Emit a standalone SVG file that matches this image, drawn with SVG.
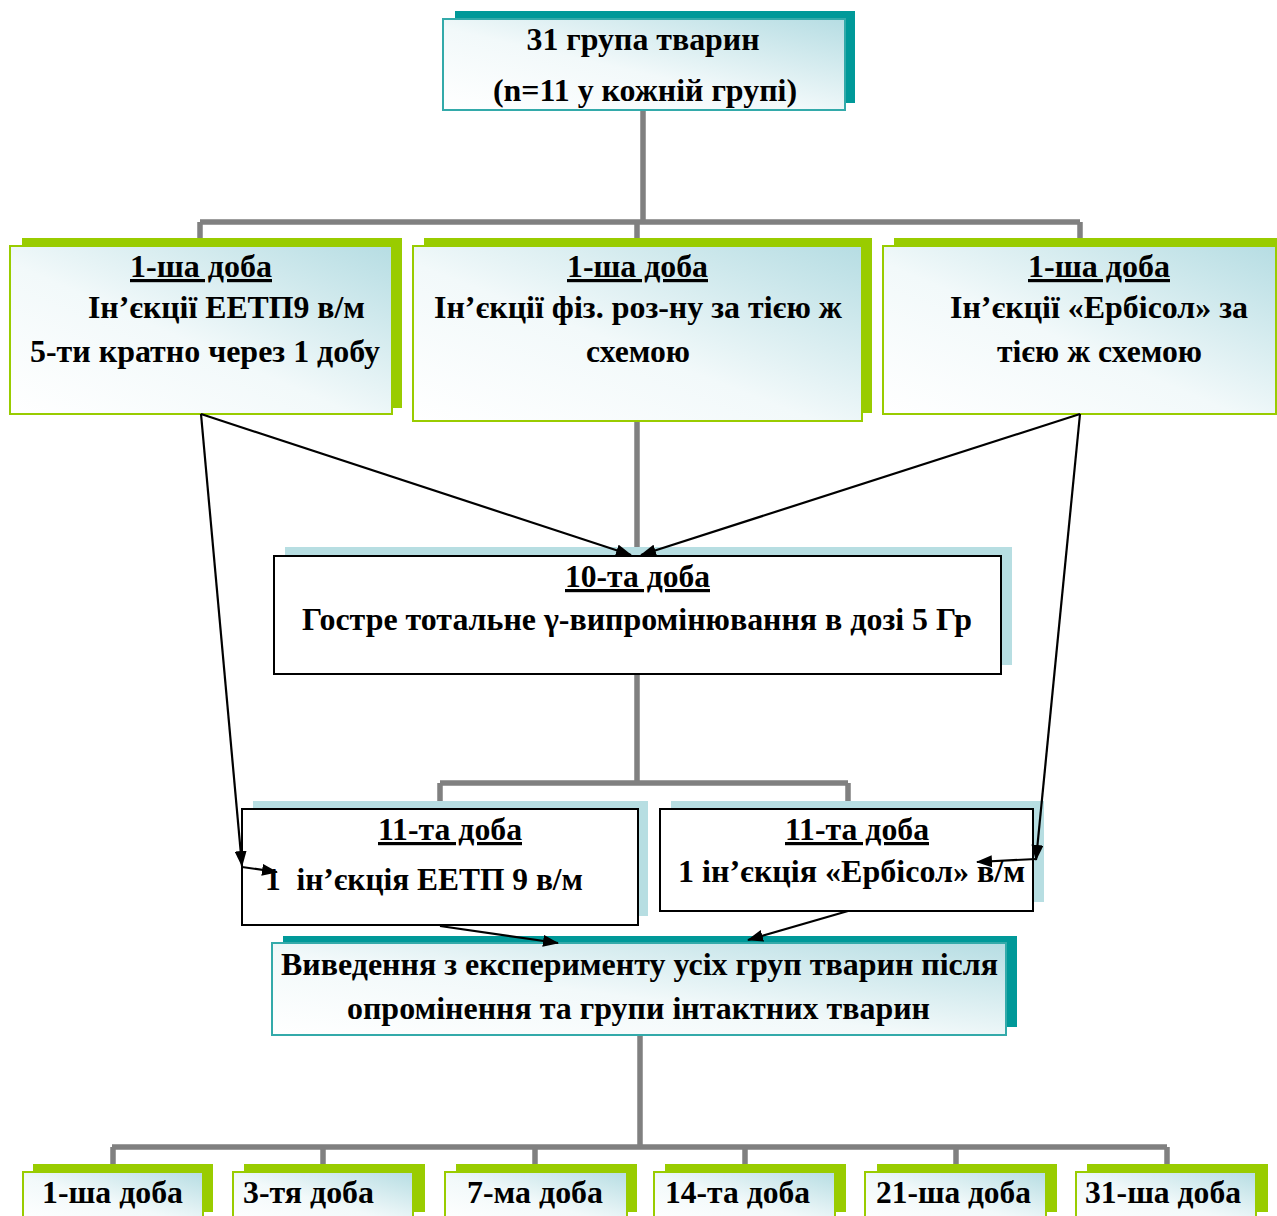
<svg xmlns="http://www.w3.org/2000/svg" width="1277" height="1216" viewBox="0 0 1277 1216">
<defs>
  <linearGradient id="gfill" x1="0" y1="1" x2="1" y2="0">
    <stop offset="0" stop-color="#ffffff"/>
    <stop offset="0.45" stop-color="#f2f9fa"/>
    <stop offset="1" stop-color="#b6dde3"/>
  </linearGradient>
  <marker id="ah" markerUnits="userSpaceOnUse" markerWidth="16" markerHeight="12" refX="15" refY="6" orient="auto">
    <path d="M0,0 L16,6 L0,12 z" fill="#000"/>
  </marker>
  <style>
    text { font-family: "Liberation Serif", "Times New Roman", serif; font-weight: bold; font-size: 32px; fill: #000; }
    .u { text-decoration: underline; text-decoration-thickness: 3px; text-underline-offset: 3px; }
    .teal-sh { fill: #009999; }
    .green-sh { fill: #99cc00; }
    .blue-sh { fill: #b7dee2; }
    .teal-box { fill: url(#gfill); stroke: #33aaaa; stroke-width: 2; }
    .green-box { fill: url(#gfill); stroke: #99cc00; stroke-width: 2; }
    .plain-box { fill: #ffffff; stroke: #000; stroke-width: 2; }
    .gray { stroke: #808080; stroke-width: 5.5; fill: none; }
    .arr { stroke: #000; stroke-width: 2.2; fill: none; marker-end: url(#ah); }
  </style>
</defs>

<g id="connectors-tree">
  <path class="gray" d="M643,110 V222 M200,222 H1080 M200,222 V238 M637,222 V238 M1080,222 V238"/>
  <path class="gray" d="M637,421 V547"/>
  <path class="gray" d="M637,673 V783 M440,783 H848 M440,783 V801 M848,783 V801"/>
  <path class="gray" d="M640,1035 V1147 M112,1147 H1167 M113,1147 V1164 M323,1147 V1164 M535,1147 V1164 M745,1147 V1164 M956,1147 V1164 M1167,1147 V1164"/>
</g>

<g id="node-top">
  <rect class="teal-sh" x="455" y="11" width="400" height="92"/>
  <rect class="teal-box" x="443" y="19" width="402" height="91"/>
  <text x="643" y="50" text-anchor="middle" textLength="233" lengthAdjust="spacingAndGlyphs">31 група тварин</text>
  <text x="645" y="101" text-anchor="middle" textLength="304" lengthAdjust="spacingAndGlyphs">(n=11 у кожній групі)</text>
</g>

<g id="node-eetp">
  <rect class="green-sh" x="22" y="238" width="380" height="170"/>
  <rect class="green-box" x="10" y="246" width="382" height="168"/>
  <text class="u" x="130" y="277" textLength="142" lengthAdjust="spacingAndGlyphs">1-ша доба</text>
  <text x="88" y="318" textLength="277" lengthAdjust="spacingAndGlyphs">Ін’єкції ЕЕТП9 в/м</text>
  <text x="30" y="362" textLength="350" lengthAdjust="spacingAndGlyphs">5-ти кратно через 1 добу</text>
</g>

<g id="node-fiz">
  <rect class="green-sh" x="424" y="238" width="448" height="175"/>
  <rect class="green-box" x="413" y="246" width="449" height="175"/>
  <text class="u" x="567" y="277" textLength="141" lengthAdjust="spacingAndGlyphs">1-ша доба</text>
  <text x="434" y="318" textLength="408" lengthAdjust="spacingAndGlyphs">Ін’єкції фіз. роз-ну за тією ж</text>
  <text x="586" y="362" textLength="104" lengthAdjust="spacingAndGlyphs">схемою</text>
</g>

<g id="node-erbisol">
  <rect class="green-sh" x="894" y="238" width="385" height="170"/>
  <rect class="green-box" x="883" y="246" width="393" height="168"/>
  <text class="u" x="1028" y="277" textLength="142" lengthAdjust="spacingAndGlyphs">1-ша доба</text>
  <text x="950" y="318" textLength="298" lengthAdjust="spacingAndGlyphs">Ін’єкції «Ербісол» за</text>
  <text x="997" y="362" textLength="205" lengthAdjust="spacingAndGlyphs">тією ж схемою</text>
</g>

<g id="node-day10">
  <rect class="blue-sh" x="285" y="547" width="727" height="118"/>
  <rect class="plain-box" x="274" y="556" width="727" height="118"/>
  <text class="u" x="565" y="587" textLength="145" lengthAdjust="spacingAndGlyphs">10-та доба</text>
  <text x="302" y="630" textLength="670" lengthAdjust="spacingAndGlyphs">Гостре тотальне γ-випромінювання в дозі 5 Гр</text>
</g>

<g id="node-day11-eetp">
  <rect class="blue-sh" x="253" y="801" width="395" height="115"/>
  <rect class="plain-box" x="242" y="809" width="396" height="116"/>
  <text class="u" x="378" y="840" textLength="144" lengthAdjust="spacingAndGlyphs">11-та доба</text>
  <text x="265" y="890" textLength="318" lengthAdjust="spacingAndGlyphs" xml:space="preserve">1  ін’єкція ЕЕТП 9 в/м</text>
</g>

<g id="node-day11-erbisol">
  <rect class="blue-sh" x="671" y="801" width="373" height="101"/>
  <rect class="plain-box" x="660" y="809" width="373" height="102"/>
  <text class="u" x="785" y="840" textLength="144" lengthAdjust="spacingAndGlyphs">11-та доба</text>
  <text x="678" y="882" textLength="347" lengthAdjust="spacingAndGlyphs">1 ін’єкція «Ербісол» в/м</text>
</g>

<g id="node-withdrawal">
  <rect class="teal-sh" x="283" y="936" width="734" height="91"/>
  <rect class="teal-box" x="272" y="943" width="734" height="92"/>
  <text x="281" y="975" textLength="717" lengthAdjust="spacingAndGlyphs">Виведення з експерименту усіх груп тварин після</text>
  <text x="347" y="1019" textLength="583" lengthAdjust="spacingAndGlyphs">опромінення та групи інтактних тварин</text>
</g>

<g id="node-d1">
  <rect class="green-sh" x="33" y="1164" width="180" height="48"/>
  <rect class="green-box" x="23" y="1172" width="180" height="50"/>
  <text x="42" y="1203" textLength="141" lengthAdjust="spacingAndGlyphs">1-ша доба</text>
</g>
<g id="node-d3">
  <rect class="green-sh" x="244" y="1164" width="181" height="48"/>
  <rect class="green-box" x="233" y="1172" width="180" height="50"/>
  <text x="243" y="1203" textLength="131" lengthAdjust="spacingAndGlyphs">3-тя доба</text>
</g>
<g id="node-d7">
  <rect class="green-sh" x="456" y="1164" width="181" height="48"/>
  <rect class="green-box" x="445" y="1172" width="182" height="50"/>
  <text x="467" y="1203" textLength="136" lengthAdjust="spacingAndGlyphs">7-ма доба</text>
</g>
<g id="node-d14">
  <rect class="green-sh" x="665" y="1164" width="181" height="48"/>
  <rect class="green-box" x="654" y="1172" width="181" height="50"/>
  <text x="665" y="1203" textLength="145" lengthAdjust="spacingAndGlyphs">14-та доба</text>
</g>
<g id="node-d21">
  <rect class="green-sh" x="877" y="1164" width="180" height="48"/>
  <rect class="green-box" x="865" y="1172" width="181" height="50"/>
  <text x="876" y="1203" textLength="155" lengthAdjust="spacingAndGlyphs">21-ша доба</text>
</g>
<g id="node-d31">
  <rect class="green-sh" x="1087" y="1164" width="181" height="48"/>
  <rect class="green-box" x="1076" y="1172" width="180" height="50"/>
  <text x="1085" y="1203" textLength="156" lengthAdjust="spacingAndGlyphs">31-ша доба</text>
</g>

<g id="connectors-arrows">
  <line class="arr" x1="201" y1="414" x2="631" y2="555"/>
  <line class="arr" x1="1080" y1="414" x2="641" y2="555"/>
  <line class="arr" x1="201" y1="414" x2="242" y2="866"/>
  <line class="arr" x1="242" y1="867" x2="277" y2="872"/>
  <line class="arr" x1="1080" y1="414" x2="1036" y2="860"/>
  <line class="arr" x1="1036" y1="859" x2="977" y2="862"/>
  <line class="arr" x1="440" y1="926" x2="558" y2="943"/>
  <line class="arr" x1="848" y1="911" x2="748" y2="940"/>
</g>
</svg>
